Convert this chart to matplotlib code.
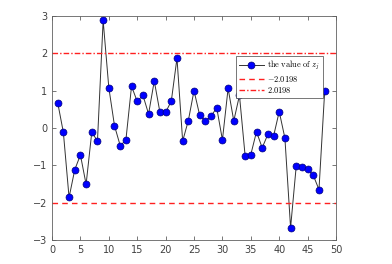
import numpy as np
import matplotlib
matplotlib.use('Agg')
import matplotlib.pyplot as plt

plt.rcParams['mathtext.fontset'] = 'cm'

idx = np.arange(1, 49)
z = [0.68, -0.12, -1.86, -1.12, -0.72, -1.51, -0.11, -0.35, 2.88, 1.08,
     0.06, -0.47, -0.33, 1.12, 0.71, 0.88, 0.375, 1.26, 0.42, 0.42,
     0.72, 1.87, -0.35, 0.2, 1.0, 0.34, 0.19, 0.32, 0.54, -0.32,
     1.06, 0.19, 0.875, -0.75, -0.71, -0.1, -0.53, -0.17, -0.22, 0.44,
     -0.27, -2.67, -1.01, -1.04, -1.1, -1.27, -1.65, 0.98]
bound = 2.0198

fig = plt.figure(figsize=(3.92, 2.64), dpi=100)
ax = fig.add_axes([0.1327, 0.0909, 0.7245, 0.8485])

ax.plot(idx, z, '-', color='#333333', lw=0.7, marker='o', ms=5,
        mfc='#0000ff', mec='#00007a', mew=0.5, label=r'$\mathrm{the\ value\ of\ }z_j$')
ax.axhline(-bound, color='#ff2020', ls=(0, (4, 3)), lw=1.0, label=r'$-2.0198$')
ax.axhline(bound, color='#ff2020', ls=(0, (4, 1.5, 1, 1.5)), lw=1.0, label=r'$2.0198$')

ax.set_xlim(0, 50)
ax.set_ylim(-3, 3)
ax.set_xticks(range(0, 51, 5))
ax.set_yticks(range(-3, 4))
ax.tick_params(direction='in', top=True, right=True, labelsize=7,
               colors='#404040', length=3, width=0.5)
for s in ax.spines.values():
    s.set_color('#606060')
    s.set_linewidth(0.6)

leg = ax.legend(loc='upper left', bbox_to_anchor=(0.647, 0.82), fontsize=6,
                fancybox=False, edgecolor='#404040', framealpha=1,
                handlelength=3.0, borderpad=0.35, labelspacing=0.15,
                handletextpad=0.4, borderaxespad=0)
leg.get_frame().set_linewidth(0.5)

fig.savefig('out.png', dpi=100)
